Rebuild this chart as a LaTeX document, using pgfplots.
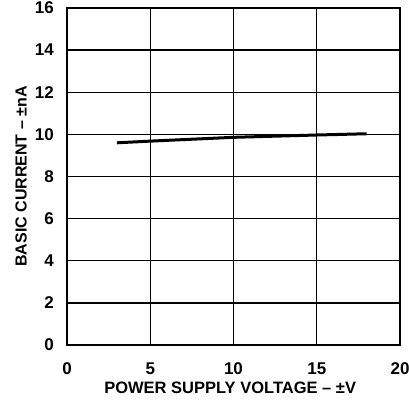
\documentclass[border=0pt]{standalone}
\usepackage{fontspec}
\setmainfont{Liberation Sans}
\usepackage{pgfplots}
\pgfplotsset{compat=1.18}
\begin{document}
\begin{tikzpicture}
\begin{axis}[
  scale only axis,
  width=333pt, height=337pt,
  xmin=0, xmax=20, ymin=0, ymax=16,
  xtick={0,5,10,15,20}, ytick={0,2,...,16},
  grid=major,
  major grid style={black, line width=1.4pt},
  axis line style={black, line width=2.6pt},
  tick style={draw=none},
  /pgf/number format/assume math mode=true,
  ticklabel style={font=\fontsize{17}{19}\selectfont\bfseries, inner sep=0pt},
  xticklabel style={anchor=center, yshift=-24pt},
  yticklabel style={anchor=east, xshift=-13pt},
  xlabel={POWER SUPPLY VOLTAGE – ±V},
  ylabel={BASIC CURRENT – ±nA},
  label style={font=\fontsize{16.5}{19}\selectfont\bfseries, inner sep=0pt},
  xlabel style={at={(axis description cs:0.49,0)}, anchor=center, yshift=-43pt},
  ylabel style={at={(axis description cs:0,0.5)}, anchor=center, yshift=46pt,
    font=\fontsize{16}{19}\selectfont\bfseries},
]
\addplot[black, line width=3pt] coordinates {
(3,9.6) (5,9.68) (10,9.86) (15,9.97) (18,10.03)
};
\end{axis}
\pgfresetboundingbox
\path (current axis.south west) ++(-67pt,-55pt) coordinate (bl);
\path (current axis.north east) ++(9pt,8pt) coordinate (tr);
\path[use as bounding box] (bl) rectangle (tr);
\end{tikzpicture}
\end{document}
